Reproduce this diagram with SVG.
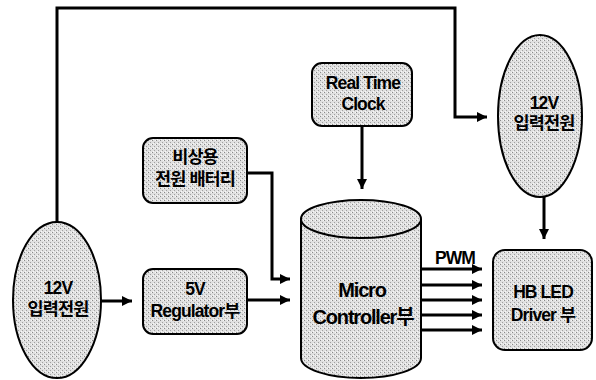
<svg xmlns="http://www.w3.org/2000/svg" width="596" height="380" viewBox="0 0 596 380">
  <defs>
    <pattern id="dots" width="4" height="4" patternUnits="userSpaceOnUse">
      <rect width="4" height="4" fill="#e0e0e0"/>
      <rect x="0" y="0" width="1" height="1" fill="#8a8a8a"/>
      <rect x="2" y="2" width="1" height="1" fill="#a0a0a0"/>
      <rect x="3" y="0" width="1" height="1" fill="#f8f8f8"/>
      <rect x="1" y="3" width="1" height="1" fill="#f8f8f8"/>
    </pattern>
    <marker id="arr" viewBox="0 0 10 10" refX="10" refY="5" markerWidth="11" markerHeight="10" markerUnits="userSpaceOnUse" orient="auto">
      <path d="M0,0 L10,5 L0,10 z" fill="#000"/>
    </marker>
  </defs>
  <style>
    .shape { fill: url(#dots); stroke: #000; stroke-width: 2; }
    .lbl { font-family: "Liberation Sans", "Noto Sans CJK KR", sans-serif; font-size: 17.5px; font-weight: bold; letter-spacing: -0.9px; text-anchor: middle; dominant-baseline: central; fill: #000; }
    .big { font-size: 20px; letter-spacing: -1.2px; }
    .conn { fill: none; stroke: #000; stroke-width: 3; }
  </style>
  <rect width="596" height="380" fill="#fff"/>

  <g id="connectors">
    <path class="conn" d="M57,222 L57,8 L455,8 L455,117 L487,117" marker-end="url(#arr)"/>
    <path class="conn" d="M544,197 L544,239" marker-end="url(#arr)"/>
    <path class="conn" d="M362,126 L362,189" marker-end="url(#arr)"/>
    <path class="conn" d="M247,173 L272,173 L272,279 L290,279" marker-end="url(#arr)"/>
    <path class="conn" d="M101,301 L132,301" marker-end="url(#arr)"/>
    <path class="conn" d="M247,300 L290,300" marker-end="url(#arr)"/>
    <path class="conn" d="M421,269 L482,269" marker-end="url(#arr)"/>
    <path class="conn" d="M421,285 L482,285" marker-end="url(#arr)"/>
    <path class="conn" d="M421,300 L482,300" marker-end="url(#arr)"/>
    <path class="conn" d="M421,315 L482,315" marker-end="url(#arr)"/>
    <path class="conn" d="M421,330 L482,330" marker-end="url(#arr)"/>
    <text class="lbl" x="455" y="258">PWM</text>
  </g>

  <g id="power-left">
    <ellipse class="shape" cx="57" cy="300" rx="44" ry="78"/>
    <text class="lbl" x="58" y="288">12V</text>
    <text class="lbl" x="58" y="309">입력전원</text>
  </g>

  <g id="power-right">
    <ellipse class="shape" cx="540" cy="116" rx="42" ry="81"/>
    <text class="lbl" x="544" y="103">12V</text>
    <text class="lbl" x="544" y="123">입력전원</text>
  </g>

  <g id="rtc">
    <rect class="shape" x="312" y="63" width="100" height="63" rx="10"/>
    <text class="lbl" x="363" y="83">Real Time</text>
    <text class="lbl" x="363" y="104">Clock</text>
  </g>

  <g id="battery">
    <rect class="shape" x="143" y="138" width="104" height="65" rx="10"/>
    <text class="lbl" x="195" y="157">비상용</text>
    <text class="lbl" x="195" y="179">전원 배터리</text>
  </g>

  <g id="regulator">
    <rect class="shape" x="143" y="269" width="104" height="65" rx="10"/>
    <text class="lbl" x="195" y="289">5V</text>
    <text class="lbl" x="195" y="311">Regulator부</text>
  </g>

  <g id="mcu">
    <path class="shape" d="M301,219 L301,358 A60,20 0 0 0 421,358 L421,219"/>
    <ellipse class="shape" cx="361" cy="219" rx="60" ry="19"/>
    <text class="lbl big" x="362" y="290">Micro</text>
    <text class="lbl big" x="363" y="317">Controller부</text>
  </g>

  <g id="driver">
    <rect class="shape" x="493" y="250" width="99" height="100" rx="12"/>
    <text class="lbl" x="543" y="292">HB LED</text>
    <text class="lbl" x="543" y="315">Driver 부</text>
  </g>
</svg>
